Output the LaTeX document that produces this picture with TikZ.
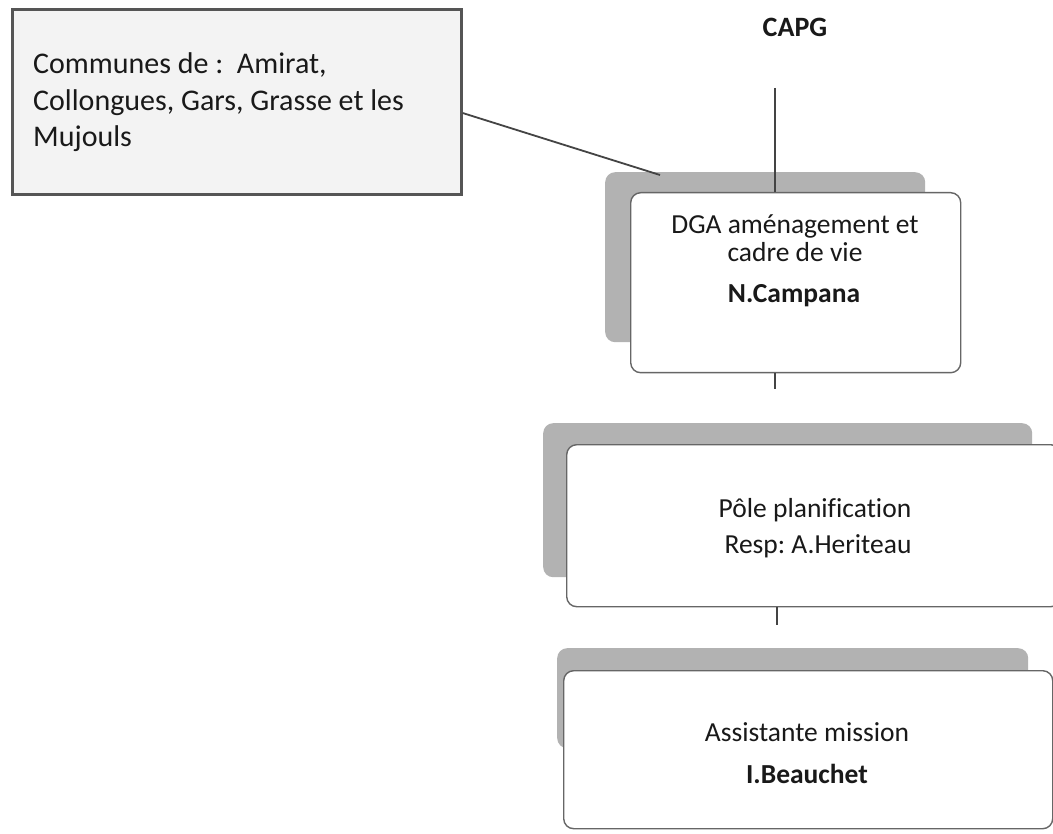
\documentclass[tikz,border=0pt]{standalone}
\usepackage{fontspec}
\setmainfont[Ligatures=NoCommon]{Carlito}
\frenchspacing
\definecolor{shadowgray}{HTML}{B2B2B2}
\definecolor{cardedge}{HTML}{666666}
\definecolor{linkgray}{HTML}{444444}
\definecolor{notefill}{HTML}{F3F3F3}
\definecolor{noteedge}{HTML}{555555}
\begin{document}
\begin{tikzpicture}[x=1pt,y=-1pt,
  shadowbox/.style={fill=shadowgray, draw=none, rounded corners=10pt, inner sep=0pt, anchor=north west},
  cardbox/.style={fill=white, draw=cardedge, line width=1.4pt, rounded corners=10pt, inner sep=0pt, anchor=north west},
  notebox/.style={fill=notefill, draw=noteedge, line width=2.6pt, inner sep=0pt, anchor=north west},
  txt/.style={anchor=base, inner sep=0pt, text=black!90, font=\fontsize{27.5}{28}\selectfont},
  notetxt/.style={anchor=base west, inner sep=0pt, text=black!90, font=\fontsize{30}{30}\selectfont},
  link/.style={draw=linkgray, line width=1.8pt}]
\useasboundingbox (0,0) rectangle (1053,834);
\fill[white] (0,0) rectangle (1053,834);

% note box on the left
\node[notebox, minimum width=449pt, minimum height=185pt] (communes) at (11,8) {};
\node[notetxt] (c1) at (33,74) {Communes de :\ \ Amirat,};
\node[notetxt] (c2) at (33,110.5) {Collongues, Gars, Grasse et les};
\node[notetxt] (c3) at (33,147) {Mujouls};

% top of the chart
\node[txt, font=\fontsize{28}{28}\selectfont\bfseries] (capg) at (795,37) {CAPG};
\coordinate (capgfoot) at (775,88);

% DGA card
\node[shadowbox, minimum width=320pt, minimum height=170pt] (dgash) at (605,172) {};
\coordinate (notetip) at (660,175);
\draw[link] (communes.east |- 0,113) -- (notetip);
\node[cardbox, minimum width=330pt, minimum height=180pt] (dga) at (630,192) {};
\draw[link] (capgfoot) -- (capgfoot |- dga.north);
\node[txt] (d1) at (795,234) {DGA aménagement et};
\node[txt] (d2) at (795,262) {cadre de vie};
\node[txt, font=\fontsize{27.5}{28}\selectfont\bfseries] (d3) at (794,303) {N.Campana};

% DGA to planning pole
\coordinate (dgatick) at (775,389);
\draw[link] (dgatick |- dga.south) -- (dgatick);

% planning pole card
\node[shadowbox, minimum width=489pt, minimum height=154pt] (polesh) at (543,423) {};
\node[cardbox, minimum width=494pt, minimum height=162pt] (pole) at (566,444) {};
\node[txt] (p1) at (815,517) {Pôle planification};
\node[txt] (p2) at (818,553) {Resp: A.Heriteau};

% planning pole to assistant
\coordinate (poletick) at (777,625);
\draw[link] (poletick |- pole.south) -- (poletick);

% assistant card
\node[shadowbox, minimum width=471pt, minimum height=100pt] (asssh) at (557,648) {};
\node[cardbox, minimum width=489pt, minimum height=158pt] (ass) at (563,670) {};
\node[txt] (a1) at (807,741) {Assistante mission};
\node[txt, font=\fontsize{27.5}{28}\selectfont\bfseries] (a2) at (807,783) {I.Beauchet};
\end{tikzpicture}
\end{document}
